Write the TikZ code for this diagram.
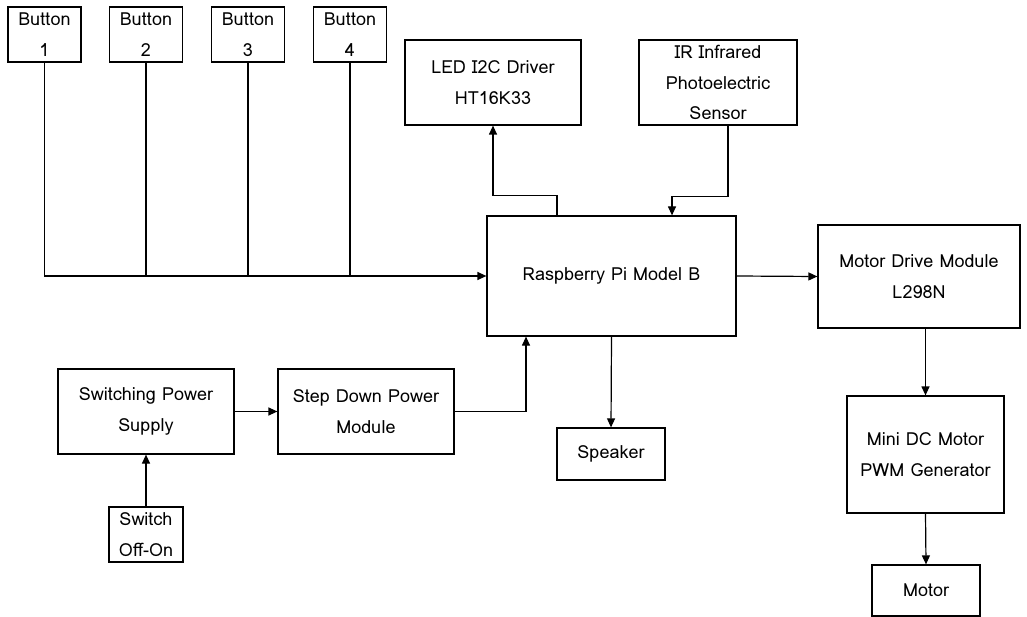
\documentclass[tikz,border=0pt]{standalone}
\usepackage{fontspec}
\setmainfont{Loma}
\usetikzlibrary{arrows.meta}
\tikzset{
  box/.style={draw, line width=1.2pt, rectangle, inner sep=0pt, align=center, font=\fontsize{18}{30.5}\selectfont},
  conn/.style={line width=1.2pt},
  arr/.style={conn, -{Triangle[length=9pt,width=8pt]}}
}
\begin{document}
\begin{tikzpicture}[x=1pt,y=-1pt]
\useasboundingbox (0,0) rectangle (1027,617);
\node[box, minimum width=73pt, minimum height=55pt] (b1) at (44.5,34.5) {Button\\1};
\node[box, minimum width=73pt, minimum height=55pt] (b2) at (146,34.5) {Button\\2};
\node[box, minimum width=73pt, minimum height=55pt] (b3) at (248,34.5) {Button\\3};
\node[box, minimum width=73pt, minimum height=55pt] (b4) at (350,34.5) {Button\\4};
\node[box, minimum width=176pt, minimum height=85pt] (led) at (493,82.5) {LED I2C Driver\\HT16K33};
\node[box, minimum width=158pt, minimum height=85pt] (ir) at (718,82.5) {IR Infrared\\Photoelectric\\Sensor};
\node[box, minimum width=249pt, minimum height=120pt] (rpi) at (611.5,276) {Raspberry Pi Model B};
\node[box, minimum width=202pt, minimum height=103pt] (md) at (919,276.5) {Motor Drive Module\\L298N};
\node[box, minimum width=157pt, minimum height=117pt] (mdc) at (925.5,454.5) {Mini DC Motor\\PWM Generator};
\node[box, minimum width=108pt, minimum height=51pt] (motor) at (926,590.5) {Motor};
\node[box, minimum width=108pt, minimum height=52pt] (spk) at (611,454) {Speaker};
\node[box, minimum width=176pt, minimum height=85pt] (sw) at (146,411.5) {Switching Power\\Supply};
\node[box, minimum width=176pt, minimum height=85pt] (sd) at (366,411.5) {Step Down Power\\Module};
\node[box, minimum width=74pt, minimum height=55pt] (swt) at (146,534.5) {Switch\\Off-On};
\draw[arr] (b1.south) |- (rpi.west);
\draw[conn] (b2.south) -- (b2.south |- rpi.west);
\draw[conn] (b3.south) -- (b3.south |- rpi.west);
\draw[conn] (b4.south) -- (b4.south |- rpi.west);
\draw[arr] ([xshift=-54.5pt]rpi.north) -- ++(0,-20) -| (led.south);
\draw[arr] ([xshift=10pt]ir.south) -- ++(0,71) -| ([xshift=60.5pt]rpi.north);
\draw[arr] (rpi.east) -- (md.west);
\draw[arr] (md.south -| mdc.north) -- (mdc.north);
\draw[arr] (mdc.south) -- (motor.north);
\draw[arr] (rpi.south) -- (spk.north);
\draw[arr] (sw.east) -- (sd.west);
\draw[arr] (sd.east) -| ([xshift=-85.5pt]rpi.south);
\draw[arr] (swt.north) -- (sw.south);
\end{tikzpicture}
\end{document}
